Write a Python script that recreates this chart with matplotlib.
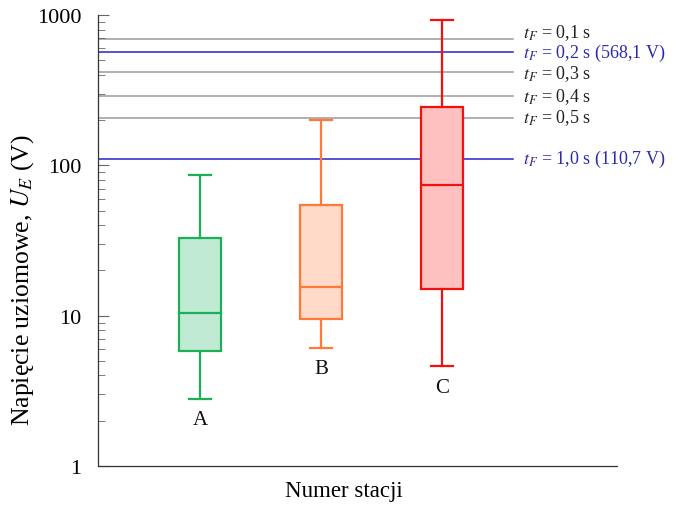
import numpy as np
import matplotlib.pyplot as plt

plt.rcParams['font.family'] = ['Liberation Serif', 'DejaVu Serif']
plt.rcParams['mathtext.fontset'] = 'stix'

stations = ['A', 'B', 'C']
whislo = [2.8, 6.1, 4.6]
q1 = [5.8, 9.5, 15.1]
med = [10.4, 15.5, 74.0]
q3 = [33.0, 54.5, 245.0]
whishi = [86.0, 200.0, 927.0]
edge_colors = ['#1db157', '#ff7a3a', '#f51010']
fill_colors = ['#c1ead5', '#ffdac8', '#ffc0c0']

limit_times = ['0,1', '0,2', '0,3', '0,4', '0,5', '1,0']
limit_values = [690.0, 568.1, 420.0, 290.0, 208.0, 110.7]
limit_notes = ['', ' (568,1 V)', '', '', '', ' (110,7 V)']
limit_colors = ['#9a9a9a', '#2424c8', '#9a9a9a', '#9a9a9a', '#9a9a9a', '#2424c8']
text_colors = ['#222222', '#2a2ab0', '#222222', '#222222', '#222222', '#2a2ab0']
text_shift = [5, -0.5, -1, 0, 0, 0]

fig = plt.figure(figsize=(6.73, 5.06), dpi=100)
ax = fig.add_axes([0.1456, 0.0771, 0.7712, 0.8913])

pos = np.arange(1, len(stations) + 1)
stats = []
for i in range(len(stations)):
    stats.append({'whislo': whislo[i], 'q1': q1[i], 'med': med[i],
                  'q3': q3[i], 'whishi': whishi[i], 'fliers': []})

bp = ax.bxp(stats, positions=pos, widths=0.35, patch_artist=True,
            showfliers=False)
for i in range(len(stations)):
    c = edge_colors[i]
    bp['boxes'][i].set_facecolor(fill_colors[i])
    bp['boxes'][i].set_edgecolor(c)
    bp['boxes'][i].set_linewidth(1.6)
    bp['medians'][i].set_color(c)
    bp['medians'][i].set_linewidth(1.6)
    for k in (2 * i, 2 * i + 1):
        bp['whiskers'][k].set_color(c)
        bp['whiskers'][k].set_linewidth(1.6)
        bp['caps'][k].set_color(c)
        bp['caps'][k].set_linewidth(1.6)
    ax.annotate(stations[i], (pos[i], whislo[i]), xytext=(0, -15),
                textcoords='offset points', ha='center', va='center',
                fontsize=15, color='#111111')

x0, x1 = 0.157, 4.446
line_end = 3.587
for v, t, n, lc, tc, dy in zip(limit_values, limit_times, limit_notes,
                               limit_colors, text_colors, text_shift):
    ax.plot([x0, line_end], [v, v], color=lc, lw=1.1, zorder=0)
    ax.annotate(r'$t_F$ = ' + t + ' s' + n, (line_end, v),
                xytext=(7, dy), textcoords='offset points', color=tc,
                fontsize=13, va='center', ha='left')

ax.set_yscale('log')
ax.set_ylim(1, 1000)
ax.set_xlim(x0, x1)
ax.set_xticks([])
ax.set_yticks([1, 10, 100, 1000])
ax.set_yticklabels(['1', '10', '100', '1000'])
ax.tick_params(axis='y', which='major', direction='in', length=8,
               color='#666666', labelsize=16, pad=12)
ax.tick_params(axis='y', which='minor', direction='in', length=5,
               color='#666666')
for s in ['top', 'right']:
    ax.spines[s].set_visible(False)
for s in ['left', 'bottom']:
    ax.spines[s].set_color('#333333')
    ax.spines[s].set_linewidth(0.9)

ax.set_xlabel('Numer stacji', fontsize=16.5)
ax.xaxis.set_label_coords(0.474, -0.03)
ax.set_ylabel(r'Napięcie uziomowe, $U_E$ (V)', fontsize=18.5)
ax.yaxis.set_label_coords(-0.12, 0.415)

fig.savefig('out.png', dpi=100)
